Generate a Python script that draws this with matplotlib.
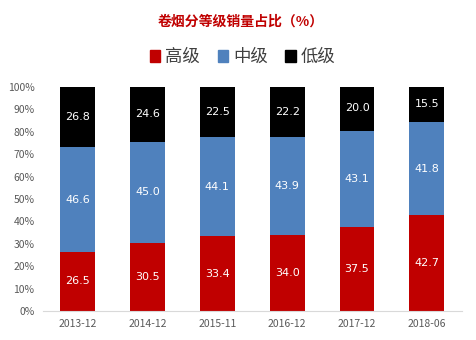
import matplotlib
matplotlib.use("Agg")
import matplotlib.pyplot as plt
import numpy as np

plt.rcParams['font.family'] = ['Noto Sans CJK SC', 'DejaVu Sans']

periods = ["2013-12", "2014-12", "2015-11", "2016-12", "2017-12", "2018-06"]
high = [26.5, 30.5, 33.4, 34.0, 37.5, 42.7]
mid = [46.6, 45.0, 44.1, 43.9, 43.1, 41.8]
low = [26.8, 24.6, 22.5, 22.2, 20.0, 15.5]
series_names = ["高级", "中级", "低级"]
colors = ["#C00000", "#4F81BD", "#000000"]

fig = plt.figure(figsize=(4.76, 3.4), dpi=100)
ax = fig.add_axes([0.09, 0.085, 0.88, 0.659])

x = np.arange(len(periods))
bottom = np.zeros(len(periods))
for name, vals, c in zip(series_names, [high, mid, low], colors):
    vals = np.array(vals)
    ax.bar(x, vals, width=0.5, bottom=bottom, color=c, label=name)
    for xi, b, v in zip(x, bottom, vals):
        ax.text(xi, b + v / 2, f"{v:.1f}", ha="center", va="center",
                color="white", fontsize=8, family="DejaVu Sans")
    bottom += vals

ax.set_ylim(0, 100)
ax.set_xlim(-0.5, len(periods) - 0.5)
ax.set_yticks(np.arange(0, 101, 10))
ax.set_yticklabels([f"{v}%" for v in range(0, 101, 10)])
ax.set_xticks(x)
ax.set_xticklabels(periods)
ax.tick_params(axis="both", length=0, labelsize=7.5, colors="#595959", pad=6)
for s in ["top", "right", "left"]:
    ax.spines[s].set_visible(False)
ax.spines["bottom"].set_color("#D9D9D9")

fig.text(0.505, 0.935, "卷烟分等级销量占比（%）", ha="center", va="center",
         color="#C00000", fontsize=10, fontweight="bold", style="italic")

handles = [plt.Rectangle((0, 0), 1, 1, color=c) for c in colors]
fig.legend(handles, series_names, loc="center", bbox_to_anchor=(0.51, 0.832),
           ncol=3, frameon=False, fontsize=12.5, handlelength=0.6, handleheight=0.6,
           handletextpad=0.3, columnspacing=1.0, labelcolor="#404040")

fig.savefig("out.png", dpi=100)
